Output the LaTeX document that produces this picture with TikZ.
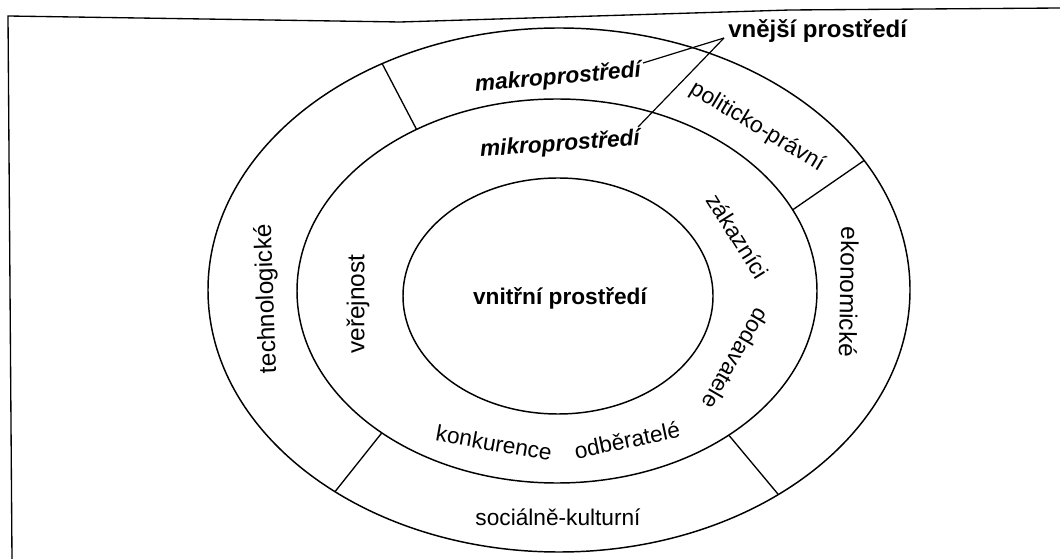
\documentclass[tikz,border=0pt]{standalone}
\usepackage{fontspec}
\setmainfont{Liberation Sans}
\usetikzlibrary{shapes.geometric}
\begin{document}
\begin{tikzpicture}[x=0.75pt,y=-0.75pt,
  ring/.style={draw, ellipse, inner sep=0pt, outer sep=0pt, line width=1.1pt},
  lbl/.style={font=\fontsize{17}{20}\selectfont, inner sep=0pt},
  vlbl/.style={font=\fontsize{18.3}{21}\selectfont, inner sep=0pt},
  blbl/.style={font=\fontsize{17}{20}\selectfont\bfseries, inner sep=0pt},
  bilbl/.style={font=\fontsize{17}{20}\selectfont\bfseries\itshape, inner sep=0pt},
  divider/.style={line width=1pt},
  leader/.style={line width=0.9pt},
  frame/.style={line width=1pt}]
\useasboundingbox (0,0) rectangle (1060,559);
% scanned page frame
\draw[frame] (12,559) -- (8,16) -- (400,22) -- (790,10) -- (1060,8);
% rings
\node[ring, minimum width=526.5pt, minimum height=393pt] (outer) at (559,290) {};
\node[ring, minimum width=390pt, minimum height=288pt] (middle) at (557,291) {};
\node[ring, minimum width=232.5pt, minimum height=177pt] (inner) at (558,296) {};
% dividers of the outer ring
\draw[divider] (outer.128.6) -- (middle.131.5);
\draw[divider] (outer.23.6) -- (middle.19.2);
\draw[divider] (outer.-43.5) -- (middle.-40.2);
\draw[divider] (outer.222.8) -- (middle.219.8);
% labels
\node[blbl] (vnitrni) at (560,298) {vnitřní prostředí};
\node[bilbl, rotate=5] (makro) at (558,78) {makroprostředí};
\node[bilbl, rotate=4] (mikro) at (560,145) {mikroprostředí};
\node[lbl, rotate=-31] (polit) at (757,127) {politicko-právní};
\node[vlbl, rotate=92] (techn) at (267,299) {technologické};
\node[vlbl, rotate=90] (verej) at (358,304) {veřejnost};
\node[lbl, rotate=-58] (zakaz) at (738,236) {zákazníci};
\node[lbl, rotate=-120] (dodav) at (736,359) {dodavatele};
\node[vlbl, rotate=-91] (ekon) at (849,292) {ekonomické};
\node[lbl, rotate=-10] (konk) at (494,443) {konkurence};
\node[lbl, rotate=12] (odber) at (627,440) {odběratelé};
\node[lbl] (soc) at (558,517) {sociálně-kulturní};
\node[font=\fontsize{18}{21}\selectfont\bfseries, inner sep=0pt, anchor=base west] (vnejsi) at (728,38) {vnější prostředí};
% leader lines
\coordinate (makroEnd) at (643,63);
\coordinate (mikroEnd) at (638,127);
\draw[leader] ([xshift=-3pt]vnejsi.base west) -- (makroEnd);
\draw[leader] ([xshift=-3pt]vnejsi.base west) -- (mikroEnd);
\end{tikzpicture}
\end{document}
